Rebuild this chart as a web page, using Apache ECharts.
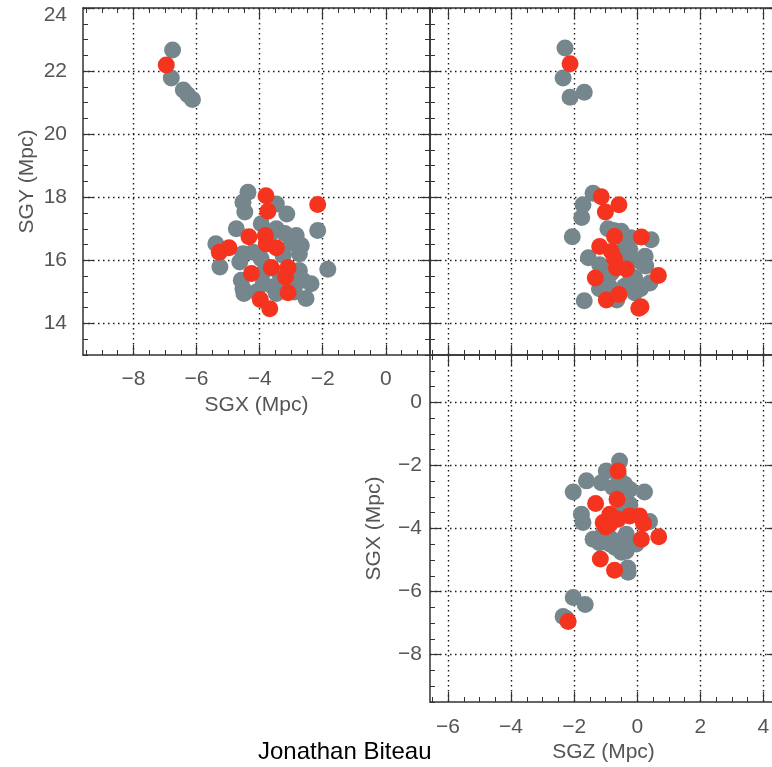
<!DOCTYPE html>
<html>
<head>
<meta charset="utf-8">
<script src="https://cdn.jsdelivr.net/npm/echarts@6/dist/echarts.min.js"></script>
<style>
html, body { margin: 0; padding: 0; background: #fff; }
#chart { width: 772px; height: 767px; }
</style>
</head>
<body>
<div id="chart"></div>
<script>
// panel 1: SGX (x) vs SGY (y)
var grayXY = [
  [-6.76,22.67],[-6.80,21.78],[-6.42,21.40],[-6.13,21.10],[-6.28,21.25],
  [-4.37,18.16],[-4.53,17.84],[-4.47,17.53],[-3.47,17.79],[-3.14,17.47],
  [-4.74,17.00],[-3.95,17.16],[-3.47,17.00],[-2.84,16.79],[-2.68,16.47],
  [-2.74,16.21],[-2.16,16.95],[-5.39,16.53],[-5.26,15.79],[-4.53,16.21],
  [-4.21,16.26],[-4.63,15.95],[-4.58,15.37],[-4.53,15.11],[-3.58,15.16],
  [-3.89,15.26],[-2.74,15.68],[-2.63,15.37],[-2.37,15.26],[-2.53,14.79],
  [-1.84,15.72],[-3.37,15.58],[-2.95,15.26],[-3.95,16.05],[-3.26,16.16],
  [-3.47,14.95],[-4.50,14.95],[-3.00,16.55],[-3.30,15.30],[-4.10,15.00],
  [-3.90,15.60],[-2.90,15.00],[-3.60,16.90],[-3.20,16.85]
];
var redXY = [
  [-6.96,22.19],[-3.80,18.05],[-3.74,17.56],[-2.16,17.77],[-4.34,16.75],
  [-3.82,16.79],[-3.79,16.52],[-3.47,16.40],[-4.97,16.40],[-5.28,16.26],
  [-4.26,15.58],[-3.63,15.77],[-3.10,15.77],[-3.18,15.47],[-3.10,14.97],
  [-3.98,14.76],[-3.68,14.47]
];
// panel 2: SGZ (x) vs SGY (y)
var grayZY = [
  [-2.29,22.73],[-2.35,21.78],[-2.13,21.17],[-1.68,21.33],
  [-1.40,18.13],[-1.72,17.76],[-1.76,17.36],[-2.06,16.75],[-0.93,17.00],
  [-0.51,16.92],[-0.20,16.72],[0.44,16.65],[-1.55,16.08],[-0.24,16.35],
  [0.25,16.13],[0.27,15.82],[-1.19,15.86],[-1.05,15.40],[-0.08,15.45],
  [0.40,15.28],[-0.40,15.18],[-0.08,14.97],[-1.68,14.72],[-0.65,14.74],
  [-0.82,15.60],[-0.40,16.44],[-0.75,16.95],[-0.55,16.10],[-1.20,15.10],
  [-0.30,15.90],[0.00,16.00],[-0.90,15.20],[-0.20,15.50],[0.10,15.10]
];
var redZY = [
  [-2.13,22.23],[-1.14,18.02],[-0.58,17.76],[-1.01,17.53],[-0.72,16.76],
  [0.13,16.74],[-1.19,16.44],[-0.82,16.28],[-0.72,16.05],[-0.66,15.76],
  [-0.35,15.73],[-1.33,15.44],[0.67,15.52],[-0.98,14.74],[-0.58,14.92],
  [0.05,14.48],[0.12,14.53]
];
// panel 3: SGZ (x) vs SGX (y)
var grayZX = [
  [-2.03,-6.19],[-1.65,-6.41],[-2.35,-6.79],[-2.25,-6.85],
  [-0.56,-1.86],[-0.98,-2.18],[-1.61,-2.49],[-2.03,-2.84],[-1.14,-2.55],
  [-0.40,-2.60],[-0.24,-2.76],[0.23,-2.84],[-0.77,-2.70],[-1.77,-3.55],
  [-1.72,-3.81],[0.39,-3.78],[-0.24,-3.23],[-1.40,-4.34],[-0.87,-4.49],
  [-0.35,-4.71],[-0.03,-4.49],[-0.56,-4.39],[-0.29,-5.39],[-0.35,-4.18],
  [-1.10,-4.20],[-0.60,-2.30],[-0.30,-5.25],[-1.20,-4.45],[-0.70,-4.60],
  [-0.50,-4.75],[-0.90,-4.25],[-0.45,-3.40]
];
var redZX = [
  [-2.19,-6.95],[-0.61,-2.18],[-1.32,-3.21],[-0.64,-3.07],[-0.87,-3.55],
  [-1.08,-3.81],[-0.61,-3.71],[-0.24,-3.60],[0.07,-3.60],[-0.87,-3.86],
  [0.13,-4.34],[0.68,-4.26],[-1.17,-4.97],[-0.72,-5.32],[0.20,-3.84],
  [-1.00,-3.95]
];

// tick labels
var sgxTicks = [-8, -6, -4, -2, 0];
var sgyTicks = [14, 16, 18, 20, 22, 24];
var sgzTicks = [-6, -4, -2, 0, 2, 4];

var grayColor = '#76868d';
var redColor = '#f4341f';
var inkColor = '#333';
var textColor = '#555';
var fontFam = '"Liberation Sans", Arial, sans-serif';

function fmt(v) {
  return v < 0 ? '\u2212' + Math.abs(v) : String(v);
}
function halfSteps(min, max) {
  var out = [];
  for (var v = Math.ceil(min * 2) / 2; v <= max + 1e-9; v += 0.5) out.push(v);
  return out;
}

var xAxes = [], yAxes = [];

// one side of a box: a main axis (line, long ticks, grid) + an overlay with short ticks
function addSide(list, grid, min, max, majors, pos, extra) {
  extra = extra || {};
  var idx = list.length;
  var main = {
    gridIndex: grid, type: 'value', min: min, max: max, position: pos,
    axisLine: { show: true, onZero: false, lineStyle: { color: inkColor, width: 1.5 } },
    axisTick: { show: true, inside: true, length: 10, customValues: majors,
      lineStyle: { color: inkColor, width: 1.2 } },
    axisLabel: { show: false },
    splitLine: { show: !!extra.grid, lineStyle: { color: '#1a1a1a', width: 1.4, type: [1.5, 3.5] } }
  };
  if (extra.label) {
    main.axisLabel = {
      show: true, customValues: majors, margin: extra.margin,
      color: textColor, fontSize: 21, fontFamily: fontFam,
      formatter: extra.formatter || fmt, rich: extra.rich
    };
    main.name = extra.name;
    main.nameLocation = 'middle';
    main.nameGap = extra.nameGap;
    main.nameTextStyle = { color: textColor, fontSize: 21, fontFamily: fontFam };
  }
  list.push(main);
  list.push({
    gridIndex: grid, type: 'value', min: min, max: max, position: pos,
    axisLine: { show: false, onZero: false },
    axisTick: { show: true, inside: true, length: 5, customValues: halfSteps(min, max),
      lineStyle: { color: inkColor, width: 1 } },
    axisLabel: { show: false },
    splitLine: { show: false }
  });
  return idx;
}

// panel 1
var p1x = addSide(xAxes, 0, -9.6, 1.4, sgxTicks, 'bottom',
  { grid: true, label: true, margin: 14, name: 'SGX (Mpc)', nameGap: 40 });
addSide(xAxes, 0, -9.6, 1.4, sgxTicks, 'top');
var p1y = addSide(yAxes, 0, 13, 24, sgyTicks, 'left',
  { grid: true, label: true, margin: 16, name: 'SGY (Mpc)', nameGap: 45,
    formatter: function (v) { return v === 24 ? '{d|24}' : fmt(v); },
    rich: { d: { padding: [14, 0, 0, 0], fontSize: 21, color: textColor, fontFamily: fontFam } } });
addSide(yAxes, 0, 13, 24, sgyTicks, 'right');

// panel 2
var p2x = addSide(xAxes, 1, -6.57, 4.43, sgzTicks, 'bottom', { grid: true });
addSide(xAxes, 1, -6.57, 4.43, sgzTicks, 'top');
var p2y = addSide(yAxes, 1, 13, 24, sgyTicks, 'left', { grid: true });
addSide(yAxes, 1, 13, 24, sgyTicks, 'right');

// panel 3
var p3x = addSide(xAxes, 2, -6.57, 4.43, sgzTicks, 'bottom',
  { grid: true, label: true, margin: 15, name: 'SGZ (Mpc)', nameGap: 40 });
addSide(xAxes, 2, -6.57, 4.43, sgzTicks, 'top');
var p3y = addSide(yAxes, 2, -9.5, 1.5, sgxTicks, 'left',
  { grid: true, label: true, margin: 8, name: 'SGX (Mpc)', nameGap: 45 });
addSide(yAxes, 2, -9.5, 1.5, sgxTicks, 'right');

function dots(data, color, xi, yi) {
  return {
    type: 'scatter', data: data, xAxisIndex: xi, yAxisIndex: yi,
    symbol: 'circle', symbolSize: 17, silent: true,
    itemStyle: { color: color, opacity: 1 }
  };
}

var chart = echarts.init(document.getElementById('chart'), null, { renderer: 'canvas' });
chart.setOption({
  animation: false,
  backgroundColor: '#fff',
  textStyle: { fontFamily: fontFam },
  grid: [
    { left: 83, top: 8, width: 347, height: 347, outerBoundsMode: 'none' },
    { left: 430, top: 8, width: 347, height: 347, outerBoundsMode: 'none' },
    { left: 430, top: 355, width: 347, height: 347, outerBoundsMode: 'none' }
  ],
  xAxis: xAxes,
  yAxis: yAxes,
  series: [
    dots(grayXY, grayColor, p1x, p1y),
    dots(redXY, redColor, p1x, p1y),
    dots(grayZY, grayColor, p2x, p2y),
    dots(redZY, redColor, p2x, p2y),
    dots(grayZX, grayColor, p3x, p3y),
    dots(redZX, redColor, p3x, p3y)
  ],
  graphic: [{
    type: 'text', left: 258, top: 740,
    style: { text: 'Jonathan Biteau', font: '24px ' + fontFam, fill: '#000' }
  }]
});
window.addEventListener('resize', function () { chart.resize(); });
</script>
</body>
</html>
